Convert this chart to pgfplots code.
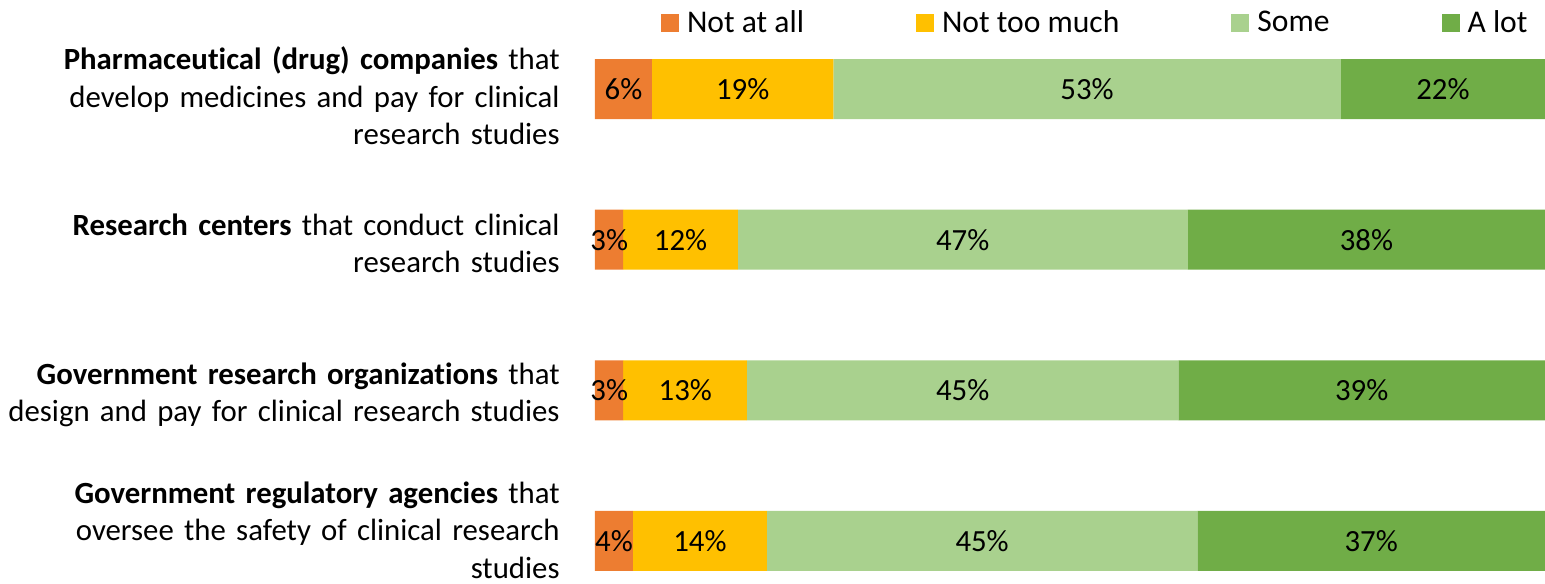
\documentclass[border=0pt]{standalone}
\usepackage{pgfplots}
\pgfplotsset{compat=1.18}
\usepackage{pgfplotstable}
\usepackage{fontspec}
\setmainfont{Carlito}[Ligatures=NoCommon]
\definecolor{cNot}{HTML}{ED7D31}
\definecolor{cNtm}{HTML}{FFC000}
\definecolor{cSome}{HTML}{A9D18E}
\definecolor{cLot}{HTML}{70AD47}

\pgfplotstableread{
y mid val
0 3.0 6
0 15.55 19
0 51.8 53
0 89.25 22
1 1.5 3
1 9.0 12
1 38.7 47
1 81.2 38
2 1.5 3
2 9.5 13
2 38.7 45
2 80.7 39
3 2.0 4
3 11.05 14
3 40.75 45
3 81.7 37
}\labeltable

\newcommand{\lblfont}{\fontsize{15.4}{18.8}\selectfont}
\newcommand{\legfont}{\fontsize{15.8}{18.8}\selectfont}

\begin{document}
\begin{tikzpicture}
\path[use as bounding box] (-297.5pt,0pt) rectangle (475pt,291.5pt);
\pgfplotsset{common/.style={scale only axis, width=475pt, height=291.5pt,
  xmin=0, xmax=100, ymin=-0.591, ymax=3.279, y dir=reverse}}
\begin{axis}[common, xbar stacked, bar width=30pt,
  axis line style={draw=none}, tick style={draw=none}, xtick=\empty,
  ytick={0.045,1.025,2.03,2.927},
  yticklabels={
    {\textbf{Pharmaceutical (drug) companies} that\\ develop medicines and pay for clinical\\ research studies},
    {\textbf{Research centers} that conduct clinical\\ research studies},
    {\textbf{Government research organizations} that\\ design and pay for clinical research studies},
    {\textbf{Government regulatory agencies} that\\ oversee the safety of clinical research\\ studies}},
  yticklabel style={align=right, text width=300pt, inner sep=0pt, xshift=-17.5pt, font=\lblfont},
  legend columns=4,
  legend image code/.code={\fill[#1] (0pt,-4.5pt) rectangle (9pt,4.5pt);},
  legend style={at={(0.982,1)}, anchor=north east, draw=none, fill=none, inner sep=0pt,
    yshift=-5pt, font=\legfont, nodes={inner sep=0pt},
    /tikz/every odd column/.append style={column sep=4pt},
    /tikz/every even column/.append style={column sep=56pt}},
]
\addplot[fill=cNot, draw=none] coordinates {(6.0,0) (2.95,1) (2.95,2) (4.0,3)};
\addplot[fill=cNtm, draw=none] coordinates {(19.1,0) (12.1,1) (13.05,2) (14.1,3)};
\addplot[fill=cSome, draw=none] coordinates {(53.4,0) (47.35,1) (45.4,2) (45.3,3)};
\addplot[fill=cLot, draw=none] coordinates {(21.5,0) (37.6,1) (38.6,2) (36.6,3)};
\legend{Not at all, Not too much, Some, A lot}
\end{axis}
\begin{axis}[common, hide axis]
\addplot[draw=none, mark=none, nodes near coords={\pgfplotspointmeta\%},
  point meta=explicit symbolic, nodes near coords align={center},
  every node near coord/.append style={font=\lblfont, text=black, inner sep=0pt}]
  table[x=mid, y=y, meta=val] {\labeltable};
\end{axis}
\end{tikzpicture}
\end{document}
